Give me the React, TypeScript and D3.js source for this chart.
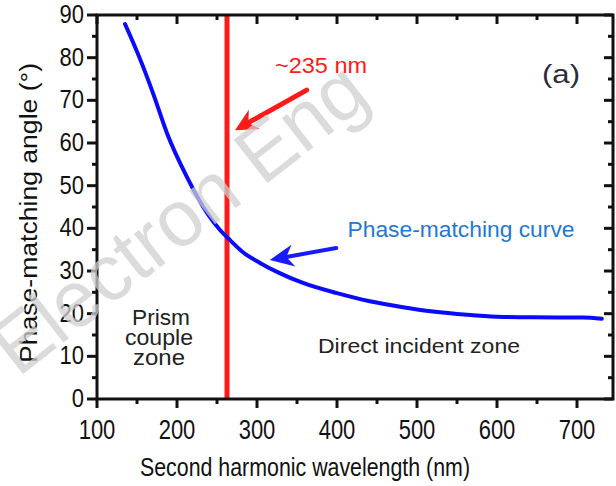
import React, { useEffect, useRef } from 'react';
import * as d3 from 'd3';

// phase-matching curve
const wavelength = [135, 154, 170, 187.5, 212.5, 237.5, 253.75, 266, 282.5, 303.75, 325, 357.5, 400, 441, 482.5, 520, 562.5, 600, 645, 707.5, 731];
const angle = [87.9, 79.6, 71.7, 62.3, 52.0, 43.6, 39.6, 37.3, 34.4, 31.9, 29.8, 27.2, 24.8, 22.9, 21.5, 20.5, 19.75, 19.3, 19.15, 19.1, 18.8];

const cutoff = 262.5; // red vertical marker
const xTicks = [100, 200, 300, 400, 500, 600, 700];
const yTicks = [0, 10, 20, 30, 40, 50, 60, 70, 80, 90];

// arrows: [tailX, tailY, tipX, tipY] in data units
const redArrow = [362, 72.4, 272.5, 63];
const blueArrow = [399, 35.4, 316, 32.6];

const W = 616;
const H = 486;
const FONT = '"Liberation Sans", Arial, sans-serif';

export default function App() {
  const ref = useRef<SVGSVGElement>(null);

  useEffect(() => {
    const svg = d3.select(ref.current);
    svg.selectAll('*').remove();

    const x = d3.scaleLinear().domain([100, 745]).range([97, 613]);
    const y = d3.scaleLinear().domain([0, 90]).range([399, 15]);

    svg.append('rect').attr('width', W).attr('height', H).attr('fill', '#fff');

    const g = svg.append('g');

    // red marker line
    g.append('line')
      .attr('x1', x(cutoff)).attr('x2', x(cutoff))
      .attr('y1', y(90)).attr('y2', y(0))
      .attr('stroke', '#ff1a1a').attr('stroke-width', 5);

    // curve
    const line = d3.line<number>()
      .x((d, i) => x(wavelength[i]))
      .y(d => y(d))
      .curve(d3.curveMonotoneX);
    g.append('path')
      .attr('d', line(angle))
      .attr('fill', 'none')
      .attr('stroke', '#0a0aff')
      .attr('stroke-width', 4)
      .attr('stroke-linecap', 'round');

    // arrows
    const drawArrow = (a: number[], color: string, width: number, head: number, half: number) => {
      const x0 = x(a[0]), y0 = y(a[1]), x1 = x(a[2]), y1 = y(a[3]);
      const ang = Math.atan2(y1 - y0, x1 - x0);
      const bx = x1 - head * Math.cos(ang), by = y1 - head * Math.sin(ang);
      const nx = -Math.sin(ang), ny = Math.cos(ang);
      const mx = x1 - head * 0.7 * Math.cos(ang), my = y1 - head * 0.7 * Math.sin(ang);
      g.append('line')
        .attr('x1', x0).attr('y1', y0).attr('x2', mx).attr('y2', my)
        .attr('stroke', color).attr('stroke-width', width).attr('stroke-linecap', 'round');
      g.append('path')
        .attr('d', `M${x1},${y1}L${bx + nx * half},${by + ny * half}L${mx},${my}L${bx - nx * half},${by - ny * half}Z`)
        .attr('fill', color);
    };
    drawArrow(redArrow, '#ff1a1a', 5, 22, 11);
    drawArrow(blueArrow, '#1a1aff', 4, 24, 11);

    // frame
    const axisColor = '#111';
    g.append('rect')
      .attr('x', x(100)).attr('y', y(90))
      .attr('width', x(745) - x(100)).attr('height', y(0) - y(90))
      .attr('fill', 'none').attr('stroke', axisColor).attr('stroke-width', 3);

    // x ticks: bottom outward, top inward
    const xMinor = d3.range(150, 745, 100);
    xTicks.forEach(v => {
      g.append('line').attr('x1', x(v)).attr('x2', x(v)).attr('y1', y(0)).attr('y2', y(0) + 9)
        .attr('stroke', axisColor).attr('stroke-width', 3);
      g.append('line').attr('x1', x(v)).attr('x2', x(v)).attr('y1', y(90)).attr('y2', y(90) + 9)
        .attr('stroke', axisColor).attr('stroke-width', 3);
    });
    xMinor.forEach(v => {
      g.append('line').attr('x1', x(v)).attr('x2', x(v)).attr('y1', y(0)).attr('y2', y(0) + 5)
        .attr('stroke', axisColor).attr('stroke-width', 3);
      g.append('line').attr('x1', x(v)).attr('x2', x(v)).attr('y1', y(90)).attr('y2', y(90) + 5)
        .attr('stroke', axisColor).attr('stroke-width', 3);
    });

    // y ticks: left outward, right inward
    const yMinor = d3.range(5, 90, 10);
    yTicks.forEach(v => {
      g.append('line').attr('x1', x(100) - 10).attr('x2', x(100)).attr('y1', y(v)).attr('y2', y(v))
        .attr('stroke', axisColor).attr('stroke-width', 3);
      g.append('line').attr('x1', x(745) - 9).attr('x2', x(745)).attr('y1', y(v)).attr('y2', y(v))
        .attr('stroke', axisColor).attr('stroke-width', 3);
    });
    yMinor.forEach(v => {
      g.append('line').attr('x1', x(100) - 5).attr('x2', x(100)).attr('y1', y(v)).attr('y2', y(v))
        .attr('stroke', axisColor).attr('stroke-width', 3);
      g.append('line').attr('x1', x(745) - 5).attr('x2', x(745)).attr('y1', y(v)).attr('y2', y(v))
        .attr('stroke', axisColor).attr('stroke-width', 3);
    });

    // text helper, with a vertical stretch like the source image
    const label = (tx: number, ty: number, s: string, size: number, anchor: string,
      color = '#111', len?: number, stretch = 1.25) => {
      const t = g.append('text')
        .attr('transform', `translate(${tx},${ty}) scale(1,${stretch})`)
        .attr('text-anchor', anchor)
        .attr('font-family', FONT)
        .attr('font-size', size)
        .attr('fill', color)
        .text(s);
      if (len) t.attr('textLength', len).attr('lengthAdjust', 'spacingAndGlyphs');
      return t;
    };
    xTicks.forEach(v => label(x(v), 439, String(v), 22, 'middle'));
    yTicks.forEach(v => label(84, y(v) + 8, String(v), 22, 'end', '#111', undefined, 1.2));

    // titles
    label(305, 476, 'Second harmonic wavelength (nm)', 21, 'middle', '#111', 330);
    g.append('text')
      .attr('transform', `translate(37,213) rotate(-90)`)
      .attr('text-anchor', 'middle')
      .attr('font-family', FONT)
      .attr('font-size', 23)
      .attr('fill', '#111')
      .attr('textLength', 300)
      .attr('lengthAdjust', 'spacingAndGlyphs')
      .text('Phase-matching angle (°)');

    // annotations
    label(321, 73, '~235 nm', 17, 'middle', '#ff1a1a', 92);
    label(561, 83, '(a)', 24, 'middle', '#2a2a3a', 38, 1.1);
    label(461, 237, 'Phase-matching curve', 17, 'middle', '#1f78d1', 227);
    label(161, 325, 'Prism', 20, 'middle', '#222', 58, 1.1);
    label(159, 345, 'couple', 20, 'middle', '#222', 68, 1.1);
    label(159, 365, 'zone', 20, 'middle', '#222', 52, 1.1);
    label(419, 353, 'Direct incident zone', 21, 'middle', '#222', 202, 1.0);

    // watermark
    svg.append('text')
      .attr('transform', 'translate(18,378) rotate(-38)')
      .attr('font-family', FONT)
      .attr('font-size', 80)
      .attr('fill', '#cfcfcf')
      .attr('opacity', 0.75)
      .attr('textLength', 450)
      .attr('lengthAdjust', 'spacingAndGlyphs')
      .text('Electron Eng');
  }, []);

  return (
    <svg ref={ref} width={W} height={H} style={{ position: 'absolute', left: 0, top: 0 }} />
  );
}
